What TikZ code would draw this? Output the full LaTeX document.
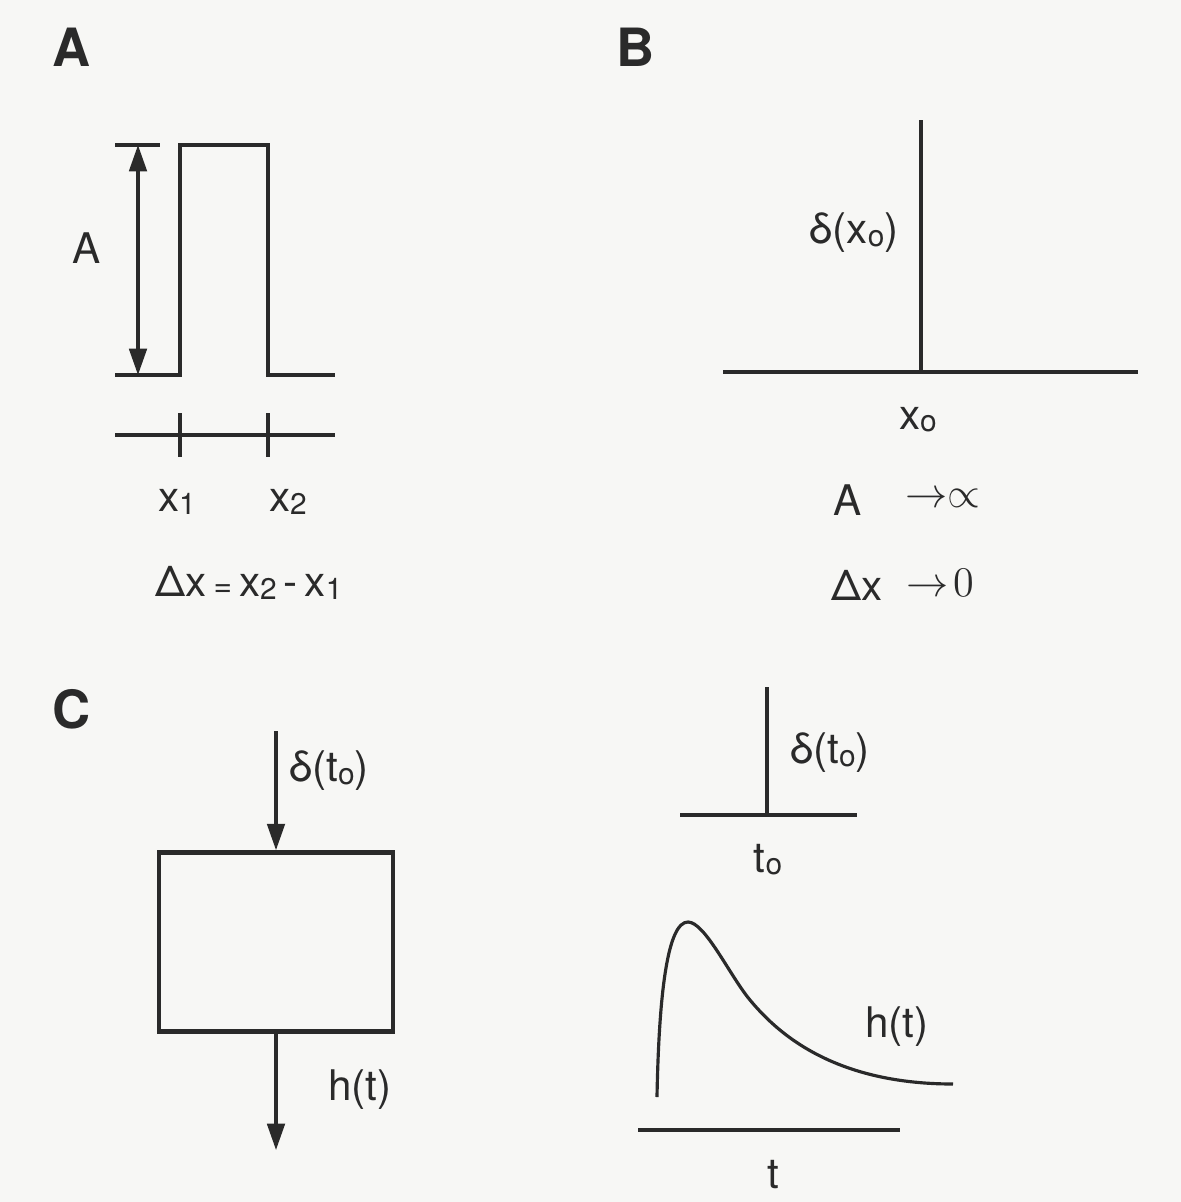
\documentclass[tikz,border=0pt]{standalone}
\usepackage{fontspec}
\setmainfont{TeX Gyre Heros}
\usetikzlibrary{arrows.meta}
\definecolor{ink}{HTML}{2A2A2A}
\definecolor{paper}{HTML}{F7F7F5}
\newcommand\lowsub[1]{\raisebox{-0.1ex}{\fontsize{8.5}{9}\selectfont #1}}
\begin{document}
\begin{tikzpicture}[x=0.01cm, y=-0.01cm,
  ln/.style={draw=ink, line width=0.9pt},
  lbl/.style={text=ink, font=\fontsize{12}{14}\selectfont, inner sep=0pt},
  panel/.style={text=ink, font=\fontsize{15}{17}\selectfont\bfseries, inner sep=0pt},
  tip/.tip={Triangle[length=7.5pt,width=5pt]},
  sysbox/.style={draw=ink, line width=1.3pt, minimum width=2.34cm, minimum height=1.79cm, inner sep=0pt}]
\fill[paper] (0,0) rectangle (1181,1202);
\useasboundingbox (0,0) rectangle (1181,1202);
% ---------- Panel A ----------
\node[panel] (labA) at (72,47) {A};
\coordinate (p0) at (115,375);
\coordinate (p1) at (180,375);
\coordinate (p2) at (180,145);
\coordinate (p3) at (268,145);
\coordinate (p4) at (268,375);
\coordinate (p5) at (335,375);
\draw[ln] (p0) -- (p1) -- (p2) -- (p3) -- (p4) -- (p5);
\coordinate (tk0) at (115,145);
\coordinate (tk1) at (160,145);
\draw[ln] (tk0) -- (tk1);
\coordinate (dtop) at (138,145);
\coordinate (dbot) at (138,375);
\draw[ln, tip-tip] (dtop) -- (dbot);
\node[lbl] (ampA) at (87,248) {A};
\coordinate (ax0) at (115,435);
\coordinate (ax1) at (335,435);
\draw[ln] (ax0) -- (ax1);
\coordinate (t1a) at (180,413);
\coordinate (t1b) at (180,457);
\coordinate (t2a) at (268,413);
\coordinate (t2b) at (268,457);
\draw[ln] (t1a) -- (t1b);
\draw[ln] (t2a) -- (t2b);
\node[lbl] (x1) at (177,502) {x\lowsub{1}};
\node[lbl] (x2) at (288,502) {x\lowsub{2}};
\node[lbl] (dxeq) at (249,583) {Δx\kern2pt{\fontsize{9}{10}\selectfont =}\kern2pt x\lowsub{2}\kern2pt-\kern2pt x\lowsub{1}};
% ---------- Panel B ----------
\node[panel] (labB) at (636,47) {B};
\coordinate (b0) at (723,372);
\coordinate (b1) at (1138,372);
\coordinate (bv0) at (921,120);
\coordinate (bv1) at (921,372);
\draw[ln] (b0) -- (b1);
\draw[ln] (bv0) -- (bv1);
\node[lbl] (dx0) at (854,233) {δ(x\lowsub{o})};
\node[lbl] (xo) at (918,420) {x\lowsub{o}};
\node[lbl] (AB) at (848,500) {A};
\node[lbl] (arrInf) at (943,498) {$\rightarrow\propto$};
\node[lbl] (dxB) at (857,585) {Δx};
\node[lbl] (arr0) at (940,583) {$\rightarrow\!0$};
% ---------- Panel C ----------
\node[panel] (labC) at (72,709) {C};
\node[sysbox] (sys) at (276,942) {};
\coordinate (inTop) at (276,731);
\coordinate (outBot) at (276,1150);
\draw[ln, -tip] (inTop) -- (sys.north);
\draw[ln, -tip] (sys.south) -- (outBot);
\node[lbl] (dt0L) at (329,771) {δ(t\lowsub{o})};
\node[lbl] (htL) at (360,1090) {h(t)};
% impulse plot
\coordinate (c0) at (680,815);
\coordinate (c1) at (857,815);
\coordinate (cv0) at (767,687);
\coordinate (cv1) at (767,815);
\draw[ln] (c0) -- (c1);
\draw[ln] (cv0) -- (cv1);
\node[lbl] (dt0R) at (830,753) {δ(t\lowsub{o})};
\node[lbl] (toR) at (768,860) {t\lowsub{o}};
% response plot
\coordinate (h0) at (657,1097);
\coordinate (hpk) at (688,922);
\coordinate (hmid) at (750,1000);
\coordinate (hend) at (953,1084);
\draw[ln] (h0) .. controls (659,990) and (668,922) .. (hpk)
              .. controls (705,922) and (730,976) .. (hmid)
              .. controls (775,1030) and (830,1084) .. (hend);
\coordinate (r0) at (638,1130);
\coordinate (r1) at (900,1130);
\draw[ln] (r0) -- (r1);
\node[lbl] (htR) at (897,1027) {h(t)};
\node[lbl] (tR) at (773,1175) {t};
\end{tikzpicture}
\end{document}
